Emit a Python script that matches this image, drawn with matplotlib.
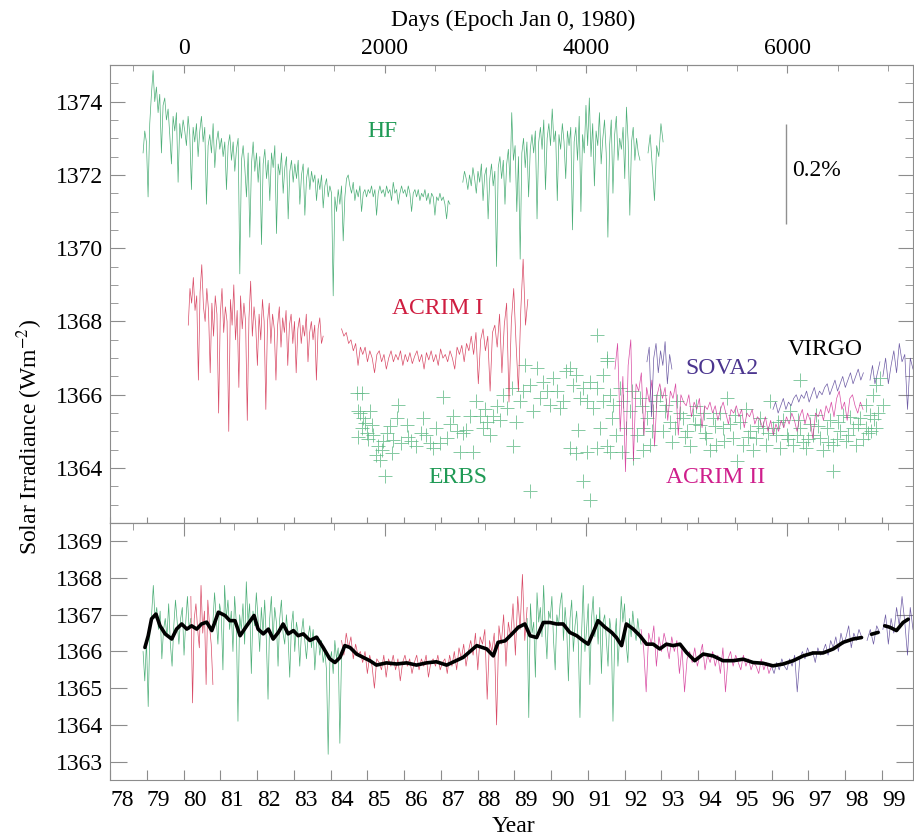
import numpy as np
import matplotlib
matplotlib.use("Agg")
import matplotlib.pyplot as plt
from matplotlib.ticker import MultipleLocator, NullFormatter

plt.rcParams['font.family'] = ['Liberation Serif', 'DejaVu Serif']
plt.rcParams['mathtext.fontset'] = 'stix'

# ---------------- upper panel: individual radiometers ----------------
# HF (Nimbus-7) daily values, three stretches
hf_a_span = (1978.9, 1987.25)
hf_a = [1372.6, 1373.2, 1372.9, 1371.4, 1373.4,
        1374.2, 1374.85, 1374.0, 1374.4, 1373.7, 1374.2, 1372.6, 1373.9, 1374.1,
        1373.5, 1373.8, 1373.1, 1372.3, 1373.6, 1373.2, 1373.7, 1371.8, 1373.4, 1373.0, 1373.5,
        1373.2, 1372.8, 1373.6, 1373.1, 1371.6, 1373.3, 1372.9, 1373.4, 1372.5, 1373.2, 1373.6,
        1372.9, 1373.3, 1371.2, 1372.8, 1373.1, 1372.6, 1373.4, 1372.2, 1372.9, 1373.2, 1372.7,
        1373.0, 1372.5, 1372.9, 1371.6, 1372.8, 1373.1, 1372.4, 1372.9, 1372.1, 1372.7, 1373.0,
        1369.3, 1372.4, 1372.8, 1372.2, 1371.4, 1372.6, 1370.3, 1372.3, 1372.9, 1372.1, 1372.6,
        1371.8, 1372.5, 1370.1, 1372.3, 1372.7, 1371.9, 1372.4, 1371.3, 1372.6, 1372.2, 1372.8,
        1370.4, 1372.3, 1372.0, 1372.6, 1371.5, 1372.2, 1372.5, 1370.8, 1372.1, 1372.4, 1371.8,
        1372.3, 1371.9, 1372.4, 1371.2, 1372.0, 1372.3, 1370.9, 1371.9, 1372.2, 1371.6, 1372.1,
        1371.8, 1372.0, 1371.3, 1371.9, 1371.6, 1372.0, 1371.1, 1371.7, 1371.9, 1371.4, 1371.7,
        1371.5, 1368.7, 1371.4, 1371.0, 1371.6, 1371.2, 1371.7, 1370.2, 1371.4, 1371.9, 1372.0,
        1371.7, 1371.5, 1371.8, 1371.3, 1371.6, 1371.4, 1371.7, 1371.0, 1371.5, 1371.6, 1371.4,
        1371.6, 1371.5, 1371.7, 1371.4, 1371.6, 1370.9, 1371.5, 1371.7, 1371.5, 1371.6, 1371.4,
        1371.7, 1371.5, 1371.6, 1371.3, 1371.8, 1371.5, 1371.6, 1371.2, 1371.5, 1371.7, 1371.5,
        1371.6, 1371.4, 1371.7, 1371.5, 1371.0, 1371.5, 1371.6, 1371.4, 1371.6, 1371.3, 1371.5,
        1371.4, 1371.6, 1371.3, 1371.5, 1371.2, 1371.5, 1371.4, 1370.9, 1371.4, 1371.3, 1371.5,
        1371.3, 1371.4, 1371.2, 1370.8, 1371.3, 1371.2]
hf_b_span = (1987.6, 1992.42)
hf_b = [1371.8, 1372.1, 1371.9, 1371.6, 1372.0, 1371.7, 1372.2, 1371.9, 1371.5,
        1372.1, 1371.8, 1372.3, 1371.3, 1372.0, 1372.2, 1370.8, 1371.9, 1372.3, 1371.7, 1372.1,
        1369.5, 1372.2, 1372.5, 1371.9, 1372.4, 1371.2, 1372.3, 1372.7, 1371.8, 1373.7, 1372.4,
        1372.8, 1371.0, 1372.5, 1369.7, 1372.6, 1373.0, 1372.2, 1372.9, 1371.4, 1372.7, 1373.1,
        1372.6, 1373.2, 1370.8, 1372.9, 1373.3, 1372.7, 1373.5, 1371.6, 1373.0, 1373.4, 1372.8,
        1373.8, 1372.9, 1373.2, 1371.3, 1373.1, 1372.7, 1373.4, 1372.9, 1371.9, 1373.2, 1372.8,
        1373.3, 1370.5, 1372.9, 1373.3, 1372.4, 1373.6, 1371.0, 1373.1, 1372.6, 1373.9, 1372.8,
        1374.1, 1372.5, 1373.4, 1371.7, 1373.2, 1372.8, 1373.7, 1372.3, 1373.0, 1373.5, 1372.6,
        1370.3, 1372.8, 1373.5, 1371.5, 1373.1, 1373.6, 1372.4, 1373.0, 1372.7, 1373.3, 1371.9,
        1373.85, 1372.9, 1370.9, 1372.9, 1373.3, 1372.4, 1373.0, 1372.6, 1372.4]
hf_c_span = (1992.64, 1993.05)
hf_c = [1372.6, 1373.1, 1372.2, 1371.3, 1372.8, 1372.5, 1373.4, 1372.9]

# ACRIM I
acrim1_a_span = (1980.13, 1983.8)
acrim1_a = [1367.9, 1368.9, 1368.5, 1369.2, 1368.3, 1368.7, 1366.4, 1368.8,
            1369.55, 1368.4, 1368.0, 1368.9, 1368.3, 1366.6, 1368.5, 1367.6, 1368.7, 1368.2, 1365.5,
            1368.2, 1368.9, 1367.7, 1368.4, 1368.0, 1365.0, 1368.6, 1367.9, 1369.0, 1367.5, 1368.3,
            1366.2, 1368.7, 1367.8, 1368.5, 1368.0, 1365.3, 1368.1, 1369.1, 1367.6, 1368.4, 1367.9,
            1366.8, 1368.2, 1367.5, 1368.6, 1368.0, 1365.6, 1368.0, 1368.5, 1367.4, 1368.2, 1367.8,
            1366.4, 1367.9, 1368.4, 1367.3, 1368.1, 1367.7, 1368.3, 1366.8, 1367.9, 1368.2, 1367.4,
            1368.0, 1366.6, 1367.8, 1368.1, 1367.4, 1367.9, 1367.6, 1368.2, 1366.9, 1367.7, 1368.0,
            1367.5, 1367.9, 1366.4, 1367.8, 1368.1, 1367.4, 1367.6]
acrim1_b_span = (1984.3, 1989.37)
acrim1_b = [1367.8, 1367.6, 1367.7, 1367.4, 1367.5, 1367.2, 1367.4, 1366.8, 1367.3,
            1367.1, 1367.3, 1366.9, 1367.2, 1367.0, 1366.6, 1367.1, 1367.2, 1366.9, 1367.1, 1366.7, 1367.0,
            1367.2, 1366.9, 1367.1, 1366.95, 1367.2, 1366.8, 1367.1, 1366.9, 1367.15, 1366.85, 1367.05, 1367.2,
            1366.9, 1367.1, 1366.7, 1367.15, 1366.95, 1367.2, 1366.9, 1367.1, 1366.8, 1367.25, 1367.0, 1367.1,
            1366.9, 1367.2, 1367.0, 1366.7, 1367.3, 1367.1, 1367.35, 1366.9, 1367.4, 1367.2,
            1367.6, 1367.1, 1367.7, 1366.3, 1367.5, 1367.8, 1367.2, 1367.6, 1366.1, 1367.7, 1367.9, 1367.3,
            1368.2, 1366.6, 1367.9, 1368.5, 1365.8, 1368.0, 1368.9, 1367.4, 1366.1, 1368.3, 1369.7, 1367.9, 1368.6]

# ACRIM II
acrim2_span = (1991.74, 1998.49)
acrim2 = [1366.7, 1367.4, 1365.0, 1366.5, 1363.9, 1366.8, 1367.5, 1364.2, 1366.3,
          1366.1, 1366.6, 1364.9, 1366.2, 1365.8, 1366.4, 1364.6, 1366.0, 1366.3,
          1365.9, 1366.2, 1365.3, 1366.1, 1365.9, 1366.3, 1364.9, 1366.0, 1365.8,
          1365.7, 1366.0, 1365.4, 1365.8, 1365.6, 1365.9, 1365.1, 1365.7, 1365.6,
          1365.8, 1365.5, 1365.7, 1365.3, 1365.6, 1365.8, 1365.5, 1365.2, 1365.6, 1365.5,
          1365.7, 1365.4, 1365.6, 1365.1, 1365.5, 1365.4, 1365.6, 1365.2, 1365.4, 1365.3,
          1365.1, 1365.4, 1365.0, 1365.3, 1364.9, 1365.2, 1365.0, 1365.3, 1365.1, 1365.4,
          1365.2, 1365.5, 1365.3, 1365.0, 1365.4, 1365.6, 1365.2, 1365.5, 1365.3, 1364.8, 1365.5, 1365.4,
          1365.6, 1365.3, 1365.7, 1365.5, 1365.8, 1365.4, 1365.9, 1366.1, 1365.6, 1365.8, 1365.3,
          1365.9, 1366.0, 1365.7, 1365.5, 1365.8, 1365.6]

# SOVA2
sova2_span = (1992.61, 1993.29)
sova2 = [1366.9, 1367.3, 1365.4, 1367.0, 1367.4, 1366.6, 1367.2, 1366.8, 1367.45, 1366.3, 1367.1, 1366.7]

# VIRGO
virgo_a_span = (1996.04, 1998.5)
virgo_a = [1365.6, 1365.8, 1365.5, 1365.7, 1365.9, 1365.6, 1365.8, 1365.7, 1365.9, 1366.0,
           1365.8, 1366.0, 1365.9, 1366.1, 1365.8, 1366.0, 1366.2, 1365.9, 1366.1, 1366.0,
           1366.2, 1366.3, 1366.0, 1366.2, 1366.4, 1366.1, 1366.3, 1366.5, 1366.2, 1366.4,
           1366.6, 1366.3, 1366.5, 1366.7, 1366.4, 1366.6]
virgo_b_span = (1998.68, 1998.95)
virgo_b = [1366.4, 1366.8, 1366.3, 1366.6, 1366.9]
virgo_c_span = (1999.03, 1999.85)
virgo_c = [1366.5, 1367.0, 1366.3, 1366.8, 1367.2, 1366.6, 1367.4, 1366.9, 1367.1, 1365.6, 1367.0, 1366.7]

# ERBS (sparse, plotted as crosses)
erbs_year = [1984.72, 1984.74, 1984.85, 1984.80, 1984.89, 1984.94, 1984.85, 1984.76, 1985.07, 1984.98,
             1985.12, 1985.16, 1985.25, 1985.35, 1985.39, 1985.48, 1985.44, 1985.62, 1985.80, 1985.84,
             1986.07, 1985.71, 1985.93, 1986.20, 1986.34, 1986.52, 1986.61, 1986.70, 1986.80, 1986.98,
             1987.07, 1987.16, 1987.34, 1987.43, 1987.52, 1987.70, 1987.79, 1987.88, 1987.97, 1988.06,
             1988.16, 1988.25, 1988.34, 1988.43, 1988.52, 1988.61, 1988.70, 1988.79, 1988.93, 1988.97,
             1989.06, 1989.15, 1989.24, 1989.29, 1989.43, 1989.43, 1989.52, 1989.61, 1989.70, 1989.79,
             1989.88, 1989.97, 1990.06, 1990.15, 1990.24, 1990.33, 1990.42, 1990.51, 1990.51, 1990.60,
             1990.69, 1990.69, 1990.74, 1990.78, 1990.88, 1990.88, 1990.97, 1990.97, 1991.06, 1991.06,
             1991.15, 1991.24, 1991.24, 1991.24, 1991.33, 1991.42, 1991.42, 1991.51, 1991.51, 1991.51,
             1991.60, 1991.60, 1991.69, 1991.65, 1991.78, 1991.87, 1991.92, 1991.96, 1992.15, 1992.24,
             1992.33, 1992.42, 1992.51, 1992.51, 1992.60, 1992.69, 1992.78, 1992.87, 1992.96, 1993.05,
             1993.14, 1993.23, 1993.30, 1993.42, 1993.50, 1993.60, 1993.69, 1993.78, 1993.87, 1993.95,
             1994.05, 1994.15, 1994.23, 1994.32, 1994.41, 1994.50, 1994.60, 1994.68, 1994.78, 1994.87,
             1994.96, 1995.05, 1995.14, 1995.23, 1995.30, 1995.41, 1995.50, 1995.59, 1995.68, 1995.77,
             1995.86, 1995.95, 1996.04, 1996.13, 1996.23, 1996.32, 1996.41, 1996.50, 1996.59, 1996.68,
             1996.77, 1996.77, 1996.86, 1996.95, 1997.04, 1997.13, 1997.22, 1997.31, 1997.40, 1997.50,
             1997.59, 1997.68, 1997.68, 1997.77, 1997.86, 1997.95, 1998.04, 1998.13, 1998.22, 1998.31,
             1998.40, 1998.49, 1998.58, 1998.58, 1998.67, 1998.70, 1998.76, 1998.85, 1998.85, 1998.90,
             1998.95, 1999.04,
             1985.02, 1985.30, 1985.55, 1985.66, 1986.12, 1986.45, 1986.88, 1987.25, 1987.61, 1988.20,
             1992.05, 1992.20, 1992.47, 1992.74, 1993.10, 1993.37, 1993.65, 1993.92, 1994.20, 1994.45,
             1994.72, 1995.00, 1995.35, 1995.63, 1995.90, 1996.18, 1996.46, 1996.72, 1997.00, 1997.27,
             1997.55, 1997.82, 1998.08, 1998.35, 1998.62, 1998.80]
erbs_val = [1366.05, 1365.55, 1366.05, 1365.50, 1365.36, 1365.23, 1365.09, 1364.86, 1365.55, 1364.95,
            1365.18, 1364.91, 1364.36, 1364.23, 1364.50, 1363.77, 1364.73, 1365.14, 1365.36, 1365.73,
            1365.18, 1364.77, 1364.68, 1364.73, 1364.59, 1365.36, 1364.91, 1364.68, 1364.55, 1364.68,
            1365.93, 1364.82, 1365.41, 1365.00, 1364.45, 1365.05, 1365.41, 1364.45, 1365.82, 1365.41,
            1365.09, 1365.27, 1364.91, 1365.41, 1365.68, 1365.32, 1366.00, 1365.64, 1366.18, 1364.59,
            1365.27, 1365.82, 1366.09, 1366.82, 1366.27, 1363.36, 1365.55, 1366.73, 1365.91, 1366.36,
            1366.09, 1365.73, 1366.45, 1366.09, 1365.64, 1365.82, 1366.64, 1366.73, 1364.55, 1366.27,
            1366.55, 1364.41, 1365.05, 1365.91, 1366.18, 1363.64, 1365.82, 1364.45, 1366.36, 1363.14,
            1365.64, 1366.18, 1364.55, 1367.64, 1365.09, 1365.82, 1366.55, 1366.91, 1364.59, 1367.00,
            1366.00, 1364.45, 1365.73, 1365.36, 1364.90, 1366.18, 1364.45, 1365.82, 1365.55, 1364.27,
            1364.90, 1365.91, 1364.50, 1365.09, 1365.36, 1364.64, 1365.55, 1365.82, 1366.00, 1365.00,
            1365.73, 1365.27, 1364.70, 1365.82, 1365.50, 1365.36, 1365.00, 1364.60, 1365.45, 1365.70,
            1365.18, 1365.50, 1364.82, 1364.50, 1365.36, 1364.64, 1365.50, 1365.09, 1365.91, 1365.20,
            1364.82, 1364.18, 1365.27, 1364.64, 1365.60, 1365.00, 1364.50, 1364.82, 1365.36, 1365.10,
            1364.64, 1365.82, 1365.09, 1364.90, 1364.54, 1365.30, 1364.91, 1365.55, 1364.64, 1364.90,
            1366.41, 1365.09, 1364.70, 1364.54, 1365.20, 1364.91, 1365.45, 1364.82, 1364.50, 1365.09,
            1365.30, 1363.91, 1364.64, 1364.80, 1365.00, 1365.45, 1364.73, 1365.40, 1365.09, 1364.64,
            1365.36, 1364.80, 1365.09, 1365.73, 1365.45, 1365.00, 1366.00, 1366.27, 1365.09, 1365.50,
            1366.45, 1365.73,
            1364.80, 1364.60, 1364.95, 1364.40, 1364.85, 1364.95, 1365.10, 1365.20, 1364.95, 1365.60,
            1365.10, 1366.10, 1365.70, 1365.00, 1365.55, 1365.10, 1364.85, 1365.20, 1364.95, 1365.15,
            1364.75, 1365.45, 1364.85, 1365.15, 1364.95, 1365.25, 1364.80, 1365.30, 1364.80, 1365.15,
            1364.70, 1365.25, 1364.90, 1365.20, 1364.95, 1365.35]

# ---------------- lower panel: composite ----------------
comp_green_a_span = (1978.9, 1980.2)
comp_green_a = [1366.0, 1365.2, 1366.3, 1364.5, 1366.6, 1367.0, 1367.8, 1366.9, 1367.2, 1366.6,
                1367.1, 1365.8, 1366.6, 1366.9, 1366.4, 1367.3, 1366.2, 1365.6, 1366.7, 1367.4,
                1366.8, 1366.2, 1366.9, 1367.2, 1365.9, 1366.8, 1367.5, 1366.6, 1366.9]
comp_red_a_span = (1980.2, 1980.8)
comp_red_a = [1367.5, 1364.6, 1366.9, 1367.3, 1366.6, 1366.1, 1367.8, 1366.5, 1367.1, 1365.1,
              1367.4, 1366.7, 1366.2, 1365.1]
comp_green_b_span = (1980.8, 1984.3)
comp_green_b = [1366.8, 1367.6, 1366.9, 1366.2, 1367.3, 1367.0, 1365.5, 1367.8, 1366.9, 1367.4, 1366.6,
                1367.1, 1366.0, 1367.5, 1366.8, 1364.1, 1367.0, 1366.6, 1367.3, 1366.2, 1367.9, 1366.8,
                1367.3, 1365.4, 1367.1, 1366.7, 1367.6, 1366.9, 1366.0, 1367.2, 1366.5, 1367.4, 1366.3,
                1364.7, 1366.9, 1367.5, 1366.3, 1367.2, 1366.8, 1365.6, 1366.9, 1367.4, 1366.5, 1366.2,
                1367.0, 1366.4, 1365.3, 1366.7, 1367.1, 1366.0, 1366.8, 1366.5, 1365.6, 1366.5, 1366.9,
                1366.3, 1365.8, 1366.4, 1366.7, 1366.1, 1366.6, 1365.5, 1366.2, 1366.4, 1365.9, 1366.3,
                1365.7, 1366.0, 1365.5, 1363.2, 1365.7, 1366.0, 1365.4, 1366.3, 1365.8, 1366.1, 1363.5, 1365.9]
comp_red_b_span = (1984.3, 1989.35)
comp_red_b = [1366.3, 1365.9, 1366.5, 1366.1, 1366.4, 1365.8, 1366.2, 1365.9, 1366.0,
              1365.7, 1366.0, 1365.4, 1365.9, 1365.6, 1365.0, 1365.8, 1365.7, 1365.5, 1365.9, 1365.3, 1365.8,
              1365.6, 1365.9, 1365.5, 1365.8, 1365.2, 1365.7, 1365.9, 1365.6, 1365.8, 1365.4, 1365.7, 1365.9,
              1365.5, 1365.8, 1365.6, 1365.9, 1365.3, 1365.7, 1365.8, 1365.6, 1365.9, 1365.5, 1365.7, 1365.8,
              1365.4, 1365.9, 1365.6, 1366.0, 1365.5, 1366.1, 1365.8, 1366.2, 1365.6, 1366.0,
              1366.3, 1365.9, 1366.5, 1365.5, 1366.4, 1366.2, 1366.6, 1364.7, 1366.3, 1366.0, 1366.5, 1364.0,
              1366.7, 1366.2, 1367.0, 1365.6, 1366.8, 1366.4, 1367.3, 1365.9, 1367.5, 1366.6, 1368.1, 1366.3, 1367.2]
comp_green_c_span = (1989.35, 1992.45)
comp_green_c = [1366.9, 1364.2, 1367.3, 1366.5, 1366.8, 1365.3, 1367.6, 1366.8, 1367.2, 1366.4,
                1367.8, 1366.6, 1365.8, 1367.1, 1366.9, 1367.5, 1366.3, 1365.5, 1367.0, 1366.7, 1367.3,
                1367.6, 1366.3, 1367.2, 1366.6, 1365.2, 1366.9, 1367.4, 1366.0, 1366.7, 1367.1, 1366.2,
                1364.2, 1366.5, 1367.8, 1366.0, 1366.6, 1367.3, 1365.1, 1366.9, 1367.5, 1366.4, 1367.0,
                1366.2, 1367.2, 1365.4, 1366.8, 1367.0, 1366.3, 1365.6, 1366.9, 1366.5, 1364.1, 1366.3,
                1366.9, 1365.6, 1366.4, 1367.5, 1366.8, 1367.3, 1366.2, 1365.7, 1366.9, 1366.4, 1367.1,
                1366.6, 1366.3, 1366.9, 1366.5, 1366.2]
comp_magenta_span = (1992.45, 1996.0)
comp_magenta = [1366.6, 1366.1, 1364.9, 1366.5, 1366.2, 1366.7, 1365.6, 1366.4, 1366.0, 1366.5,
                1366.2, 1365.8, 1366.4, 1366.0, 1366.3, 1365.4, 1366.1, 1364.9, 1365.8, 1366.0,
                1365.7, 1366.1, 1365.6, 1365.9, 1366.2, 1365.5, 1365.9, 1365.7, 1366.0, 1365.6,
                1365.9, 1365.4, 1366.1, 1364.9, 1365.8, 1366.0, 1365.6, 1365.9, 1365.7, 1365.5,
                1365.9, 1365.6, 1365.8, 1365.5, 1365.7, 1365.6, 1365.4, 1365.8, 1365.5, 1365.7, 1365.4, 1365.6]
comp_purple_a_span = (1996.0, 1998.45)
comp_purple_a = [1365.6, 1365.4, 1365.7, 1365.5, 1365.8, 1365.6, 1365.5, 1365.8, 1365.6, 1365.9,
                 1364.9, 1365.8, 1366.0, 1365.8, 1366.1, 1365.9, 1366.0, 1365.7, 1366.1, 1365.9,
                 1366.0, 1366.2, 1365.9, 1366.3, 1366.1, 1366.4, 1366.0, 1366.5, 1366.2, 1366.4,
                 1366.7, 1366.1, 1366.5, 1366.3, 1366.6, 1366.4]
comp_purple_b_span = (1998.6, 1998.95)
comp_purple_b = [1366.3, 1366.6, 1366.2, 1366.7, 1366.5]
comp_purple_c_span = (1999.03, 1999.85)
comp_purple_c = [1366.6, 1367.0, 1366.2, 1366.9, 1366.5, 1367.2, 1366.7, 1367.5, 1366.8, 1365.9, 1367.2, 1366.6]

# running mean of the composite (gaps as nan)
mean_year = [1978.95, 1979.04, 1979.13, 1979.25, 1979.36, 1979.50, 1979.68, 1979.81, 1979.95, 1980.09,
             1980.22, 1980.36, 1980.49, 1980.63, 1980.77, 1980.95, 1981.13, 1981.26, 1981.40, 1981.54,
             1981.72, 1981.92, 1982.03, 1982.17, 1982.31, 1982.44, 1982.58, 1982.71, 1982.85, 1982.99,
             1983.12, 1983.26, 1983.44, 1983.62, 1983.80, 1983.98, 1984.12, 1984.26, 1984.39, 1984.53,
             1984.71, 1984.89, 1985.07, 1985.25, 1985.52, 1985.80, 1986.07, 1986.34, 1986.61, 1986.88,
             1987.16, 1987.61, 1987.98, 1988.25, 1988.43, 1988.56, 1988.75, 1988.93, 1989.11, 1989.29,
             1989.43, 1989.61, 1989.79, 1989.97, 1990.15, 1990.33, 1990.51, 1990.70, 1990.88, 1991.01,
             1991.15, 1991.28, 1991.47, 1991.65, 1991.78, 1991.92, 1992.05, 1992.24, 1992.42, 1992.60,
             1992.78, 1992.96, 1993.14, 1993.32, 1993.51, 1993.69, 1993.91, 1994.14, 1994.41, 1994.68,
             1994.96, 1995.23, 1995.50, 1995.77, 1996.04, 1996.32, 1996.59, 1996.86, 1997.13, 1997.40,
             1997.68, 1997.95, 1998.22, 1998.45, np.nan, 1998.72, 1998.90, np.nan, 1999.08, 1999.22,
             1999.40, 1999.58, 1999.72]
mean_val = [1366.11, 1366.43, 1366.89, 1367.02, 1366.70, 1366.48, 1366.34, 1366.61, 1366.75, 1366.61,
            1366.70, 1366.61, 1366.75, 1366.80, 1366.57, 1367.07, 1366.98, 1366.84, 1366.84, 1366.43,
            1366.70, 1366.98, 1366.61, 1366.48, 1366.61, 1366.34, 1366.52, 1366.75, 1366.48, 1366.57,
            1366.43, 1366.48, 1366.30, 1366.39, 1366.11, 1365.80, 1365.70, 1365.84, 1366.16, 1366.11,
            1365.93, 1365.84, 1365.75, 1365.63, 1365.69, 1365.66, 1365.69, 1365.63, 1365.69, 1365.72,
            1365.63, 1365.84, 1366.16, 1366.07, 1365.88, 1366.25, 1366.29, 1366.47, 1366.66, 1366.75,
            1366.43, 1366.38, 1366.79, 1366.79, 1366.75, 1366.75, 1366.52, 1366.43, 1366.29, 1366.20,
            1366.52, 1366.84, 1366.66, 1366.52, 1366.38, 1366.16, 1366.75, 1366.61, 1366.43, 1366.20,
            1366.20, 1366.07, 1366.20, 1366.16, 1366.20, 1365.97, 1365.75, 1365.93, 1365.88, 1365.75,
            1365.75, 1365.79, 1365.70, 1365.68, 1365.61, 1365.66, 1365.75, 1365.88, 1365.96, 1365.96,
            1366.07, 1366.25, 1366.34, 1366.38, np.nan, 1366.47, 1366.52, np.nan, 1366.70, 1366.66,
            1366.57, 1366.79, 1366.88]

year_ticks = list(range(1978, 2000))
year_labels = [f"{y % 100:02d}" for y in year_ticks]
day_ticks = [0, 2000, 4000, 6000]

GREEN = '#1f9a55'
RED = '#cf1d40'
MAGENTA = '#cf1f8c'
PURPLE = '#4b358f'
ERBS_C = '#5cb882'
FRAME = '#8c8c8c'
FS = 17


def to_days(y):
    return (y - 1980.0) * 365.25


def to_years(d):
    return d / 365.25 + 1980.0


def daily(ax, span, vals, color):
    yrs = np.linspace(span[0], span[1], len(vals))
    ax.plot(yrs, vals, color=color, lw=0.5, alpha=0.8)


fig = plt.figure(figsize=(9.14, 8.39), dpi=100)
ax1 = fig.add_axes([110 / 914, 316 / 839, 803 / 914, 458 / 839])
ax2 = fig.add_axes([110 / 914, 59 / 839, 803 / 914, 257 / 839])

# upper panel
ax1.plot(erbs_year, erbs_val, linestyle='none', marker='+', ms=10, mew=0.7,
         color=ERBS_C, alpha=0.75)
daily(ax1, hf_a_span, hf_a, GREEN)
daily(ax1, hf_b_span, hf_b, GREEN)
daily(ax1, hf_c_span, hf_c, GREEN)
daily(ax1, acrim1_a_span, acrim1_a, RED)
daily(ax1, acrim1_b_span, acrim1_b, RED)
daily(ax1, acrim2_span, acrim2, MAGENTA)
daily(ax1, sova2_span, sova2, PURPLE)
daily(ax1, virgo_a_span, virgo_a, PURPLE)
daily(ax1, virgo_b_span, virgo_b, PURPLE)
daily(ax1, virgo_c_span, virgo_c, PURPLE)

ax1.text(1985.40, 1373.19, 'HF', color=GREEN, fontsize=FS, ha='center', va='center')
ax1.text(1986.92, 1368.36, 'ACRIM I', color=RED, fontsize=FS, ha='center', va='center')
ax1.text(1994.65, 1366.73, 'SOVA2', color=PURPLE, fontsize=FS, ha='center', va='center')
ax1.text(1997.45, 1367.24, 'VIRGO', color='black', fontsize=FS, ha='center', va='center')
ax1.text(1987.47, 1363.73, 'ERBS', color=GREEN, fontsize=FS, ha='center', va='center')
ax1.text(1994.49, 1363.73, 'ACRIM II', color=MAGENTA, fontsize=FS, ha='center', va='center')
# 0.2 % scale bar
ax1.vlines(1996.39, 1370.67, 1373.40, color='#909090', lw=1.0)
ax1.text(1996.55, 1372.13, '0.2%', color='black', fontsize=FS, ha='left', va='center')

ax1.set_xlim(1978, 1999.85)
ax1.set_ylim(1362.5, 1375.0)
ax1.set_yticks([1364, 1366, 1368, 1370, 1372, 1374])
ax1.yaxis.set_minor_locator(MultipleLocator(0.5))
ax1.set_xticks(year_ticks)
ax1.tick_params(axis='x', which='both', bottom=True, top=False, labelbottom=False,
                direction='in', length=4, color=FRAME)
ax1.tick_params(axis='y', which='major', left=True, right=True, direction='in',
                length=11, color=FRAME, labelsize=FS, pad=5)
ax1.tick_params(axis='y', which='minor', left=True, right=True, direction='in',
                length=6, color=FRAME)

sec1 = ax1.secondary_xaxis('top', functions=(to_days, to_years))
sec1.set_xticks(day_ticks)
sec1.xaxis.set_minor_locator(MultipleLocator(500))
sec1.tick_params(which='major', direction='in', length=6, color=FRAME, labelsize=FS, pad=4)
sec1.tick_params(which='minor', direction='in', length=4, color=FRAME)

# lower panel
daily(ax2, comp_green_a_span, comp_green_a, GREEN)
daily(ax2, comp_red_a_span, comp_red_a, RED)
daily(ax2, comp_green_b_span, comp_green_b, GREEN)
daily(ax2, comp_red_b_span, comp_red_b, RED)
daily(ax2, comp_green_c_span, comp_green_c, GREEN)
daily(ax2, comp_magenta_span, comp_magenta, MAGENTA)
daily(ax2, comp_purple_a_span, comp_purple_a, PURPLE)
daily(ax2, comp_purple_b_span, comp_purple_b, PURPLE)
daily(ax2, comp_purple_c_span, comp_purple_c, PURPLE)
ax2.plot(mean_year, mean_val, color='black', lw=2.6, solid_capstyle='round')

ax2.set_xlim(1978, 1999.85)
ax2.set_ylim(1362.5, 1369.5)
ax2.set_yticks(range(1363, 1370))
ax2.set_xticks(year_ticks)
ax2.set_xticklabels(year_labels)
for lab in ax2.get_xticklabels():
    lab.set_horizontalalignment('left')
ax2.tick_params(axis='x', which='both', bottom=True, top=False, direction='in',
                length=7, color=FRAME, labelsize=FS, pad=7)
ax2.tick_params(axis='y', which='major', left=True, right=True, direction='in',
                length=12, color=FRAME, labelsize=FS, pad=5)

sec2 = ax2.secondary_xaxis('top', functions=(to_days, to_years))
sec2.set_xticks(day_ticks)
sec2.xaxis.set_major_formatter(NullFormatter())
sec2.xaxis.set_minor_locator(MultipleLocator(500))
sec2.tick_params(which='major', direction='in', length=9, color=FRAME)
sec2.tick_params(which='minor', direction='in', length=5, color=FRAME)

for ax in (ax1, ax2, sec1, sec2):
    for sp in ax.spines.values():
        sp.set_color(FRAME)

fig.text(513 / 914, 1 - 20 / 839, 'Days (Epoch Jan 0, 1980)', fontsize=FS,
         ha='center', va='center')
fig.text(513 / 914, 1 - 826 / 839, 'Year', fontsize=FS, ha='center', va='center')
fig.text(30 / 914, 1 - 437 / 839, r'Solar Irradiance (Wm$^{-2}$)', fontsize=FS,
         rotation=90, ha='center', va='center')

fig.savefig('out.png', dpi=100)
